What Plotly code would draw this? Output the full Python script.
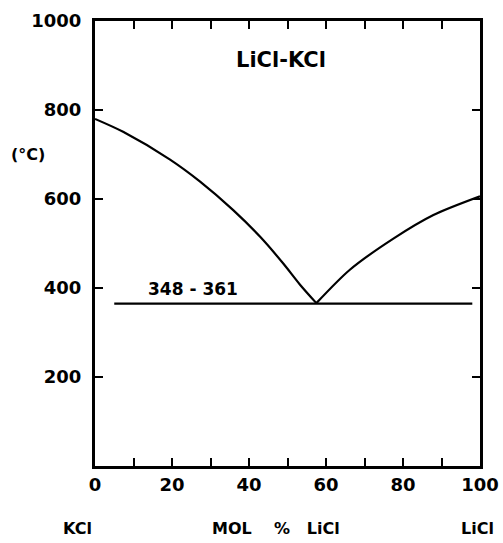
import plotly.graph_objects as go

# liquidus (mol % LiCl, deg C)
kcl_side_x = [0, 7.3, 19.4, 27.3, 35.9, 42.9, 48.9, 53.2, 57.5]
kcl_side_t = [780, 751, 689, 639, 575, 515, 455, 408, 366]
licl_side_x = [57.5, 66.2, 77.5, 87.9, 100]
licl_side_t = [366, 441, 511, 564, 606]
eutectic_x = [5, 98]
eutectic_t = [365, 365]

x_ticks = [0, 20, 40, 60, 80, 100]
y_ticks = [200, 400, 600, 800, 1000]

FONT = "DejaVu Sans"
line = dict(color="black", width=2.2, smoothing=0.8)

fig = go.Figure()
fig.add_trace(go.Scatter(x=kcl_side_x, y=kcl_side_t, mode="lines", line_shape="spline", line=line))
fig.add_trace(go.Scatter(x=licl_side_x, y=licl_side_t, mode="lines", line_shape="spline", line=line))
fig.add_trace(go.Scatter(x=eutectic_x, y=eutectic_t, mode="lines", line=dict(color="black", width=2.2)))

axis_common = dict(
    showgrid=False, zeroline=False, showline=True, linecolor="black", linewidth=3,
    mirror="ticks", ticks="inside", ticklen=8, tickwidth=2, tickcolor="black", automargin=False,
    tickfont=dict(family=FONT, size=18, color="black", weight="bold"),
)
fig.update_xaxes(range=[0, 100], tickvals=x_ticks,
                 minor=dict(dtick=10, ticks="inside", ticklen=8, tickwidth=2, tickcolor="black"),
                 ticklabelstandoff=0, **axis_common)
fig.update_yaxes(range=[0, 1000], tickvals=y_ticks, ticklabelstandoff=7, **axis_common)

fig.add_annotation(x=48.2, y=913, text="LiCl-KCl", showarrow=False,
                   font=dict(family=FONT, size=21, color="black", weight="bold"))
fig.add_annotation(x=25.5, y=397, text="348 - 361", showarrow=False,
                   font=dict(family=FONT, size=17, color="black", weight="bold"))
fig.add_annotation(x=-0.175, y=0.7, xref="paper", yref="paper", text="(°C)", showarrow=False,
                   xanchor="center", yanchor="middle",
                   font=dict(family=FONT, size=16, color="black", weight="bold"))
bottom = [(-0.045, "KCl"), (0.47, "MOL&nbsp;&nbsp;&nbsp;&nbsp;%&nbsp;&nbsp;&nbsp;LiCl"), (0.993, "LiCl")]
for xp, txt in bottom:
    fig.add_annotation(x=xp, y=-0.14, xref="paper", yref="paper", text=txt, showarrow=False,
                       xanchor="center", yanchor="middle",
                       font=dict(family=FONT, size=16, color="black", weight="bold"))

fig.update_layout(
    width=503, height=543, showlegend=False,
    margin=dict(l=95, r=23, t=21, b=77),
    paper_bgcolor="white", plot_bgcolor="white",
)
# page body margin would push the figure off its 503x543 frame
fig.write_html("out.html", config={"displayModeBar": False},
               post_script="document.body.style.margin='0';")
